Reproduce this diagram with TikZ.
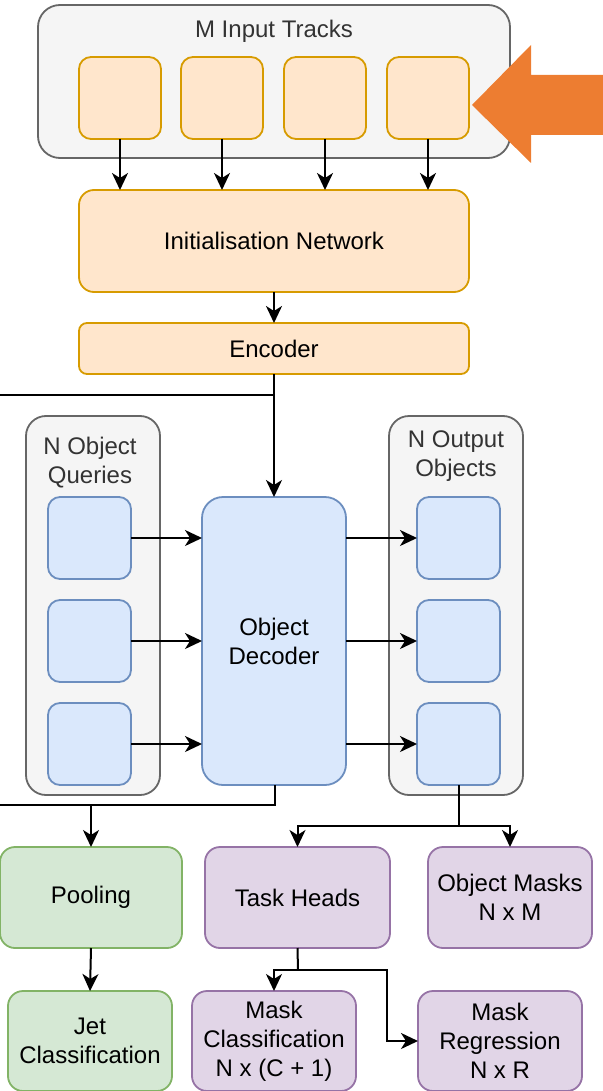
\documentclass[tikz,border=0pt]{standalone}
\usepackage{fontspec}
\setmainfont{Liberation Sans}
\usetikzlibrary{arrows.meta}

\definecolor{grayfill}{HTML}{F5F5F5}
\definecolor{graydraw}{HTML}{666666}
\definecolor{graytext}{HTML}{333333}
\definecolor{orfill}{HTML}{FFE6CC}
\definecolor{ordraw}{HTML}{D79B00}
\definecolor{blfill}{HTML}{DAE8FC}
\definecolor{bldraw}{HTML}{6C8EBF}
\definecolor{grfill}{HTML}{D5E8D4}
\definecolor{grdraw}{HTML}{82B366}
\definecolor{pufill}{HTML}{E1D5E7}
\definecolor{pudraw}{HTML}{9673A6}
\definecolor{bigarrow}{HTML}{ED7D31}

\tikzset{
  base/.style={draw, line width=1.8pt, inner sep=0pt, outer sep=0pt, align=center,
    font=\fontsize{24}{29}\selectfont},
  container/.style={base, fill=grayfill, draw=graydraw},
  orbox/.style={base, fill=orfill, draw=ordraw},
  blbox/.style={base, fill=blfill, draw=bldraw},
  grbox/.style={base, fill=grfill, draw=grdraw},
  pubox/.style={base, fill=pufill, draw=pudraw},
  sz/.style 2 args={minimum width=#1, minimum height=#2},
  conn/.style={line width=2pt, draw=black},
  arr/.style={conn, -{Stealth[length=17pt, width=16pt, inset=5pt]}},
  clabel/.style={font=\fontsize{24}{29}\selectfont, text=graytext, align=center, inner sep=0pt},
}

\begin{document}
\begin{tikzpicture}[x=1pt, y=-1pt]
\useasboundingbox (0,0) rectangle (602,1091);

% input tracks group
\node[container, sz={472}{153}, rounded corners=22pt] (inp) at (274,81.5) {};
\node[clabel] (inplab) at (274,31) {M Input Tracks};
\foreach \i/\x in {1/120,2/222,3/325,4/428}
  \node[orbox, sz={82}{82}, rounded corners=12pt] (t\i) at (\x,98) {};

% big orange arrow pointing at the tracks
\fill[bigarrow] (472,105) -- (531,45) -- (531,75) -- (603,75) -- (603,135)
  -- (531,135) -- (531,163) -- cycle;

% initialisation and encoder
\node[orbox, sz={390}{102}, rounded corners=15pt] (init) at (274,241) {Initialisation Network};
\node[orbox, sz={390}{51}, rounded corners=8pt] (enc) at (274,348.5) {Encoder};

\foreach \i in {1,...,4}
  \draw[arr] (t\i.south) -- (t\i.south |- init.north);
\draw[arr] (init.south) -- (enc.north);

% object queries and outputs
\node[container, sz={134}{379}, rounded corners=20pt] (qgrp) at (93,605.5) {};
\node[clabel] (qlab) at (90,463) {N Object\\Queries};
\node[container, sz={134}{379}, rounded corners=20pt] (ogrp) at (456,605.5) {};
\node[clabel] (olab) at (456,456) {N Output\\Objects};

\node[blbox, sz={144}{288}, rounded corners=21pt] (dec) at (274,641) {Object\\Decoder};

\foreach \i/\y in {1/538,2/641,3/744} {
  \node[blbox, sz={83}{82}, rounded corners=12pt] (q\i) at (89.5,\y) {};
  \node[blbox, sz={83}{82}, rounded corners=12pt] (o\i) at (458.5,\y) {};
  \draw[arr] (q\i.east) -- (q\i.east -| dec.west);
  \draw[arr] (o\i.west -| dec.east) -- (o\i.west);
}

% encoder to decoder, with branch leaving to the left
\coordinate (ej) at (274,395);
\coordinate (eleft) at (-2,395);
\draw[conn] (enc.south) -- (ej);
\draw[conn] (ej) -- (eleft);
\draw[arr] (ej) -- (dec.north);

% lower blocks
\node[grbox, sz={182}{101}, rounded corners=15pt] (pool) at (91,897.5) {Pooling};
\node[grbox, sz={164}{100}, rounded corners=15pt] (jet) at (90,1041) {Jet\\Classification};
\node[pubox, sz={185}{101}, rounded corners=15pt] (th) at (297.5,897.5) {Task Heads};
\node[pubox, sz={164}{101}, rounded corners=15pt] (om) at (510,897.5) {Object Masks\\N x M};
\node[pubox, sz={164}{100}, rounded corners=15pt] (mc) at (274,1041) {Mask\\Classification\\N x (C + 1)};
\node[pubox, sz={164}{100}, rounded corners=15pt] (mr) at (500,1041) {Mask\\Regression\\N x R};

% decoder to pooling
\coordinate (dj) at (275,805);
\coordinate (dleft) at (-2,805);
\draw[conn] (dec.south -| dj) -- (dj) -- (dleft);
\draw[arr] (pool.north |- dj) -- (pool.north);
\draw[arr] (pool.south) -- (jet.north);

% outputs to heads and masks
\coordinate (oj) at (459,826);
\draw[conn] (o3.south -| oj) -- (oj);
\draw[arr] (oj) -- (th.north |- oj) -- (th.north);
\draw[arr] (oj) -- (om.north |- oj) -- (om.north);

% task heads to mask outputs
\coordinate (tj) at (298,970);
\draw[conn] (th.south) -- (tj);
\draw[arr] (tj) -- (mc.north |- tj) -- (mc.north);
\draw[arr] (tj) -- (387,970) -- (387,1041) -- (mr.west);
\end{tikzpicture}
\end{document}
